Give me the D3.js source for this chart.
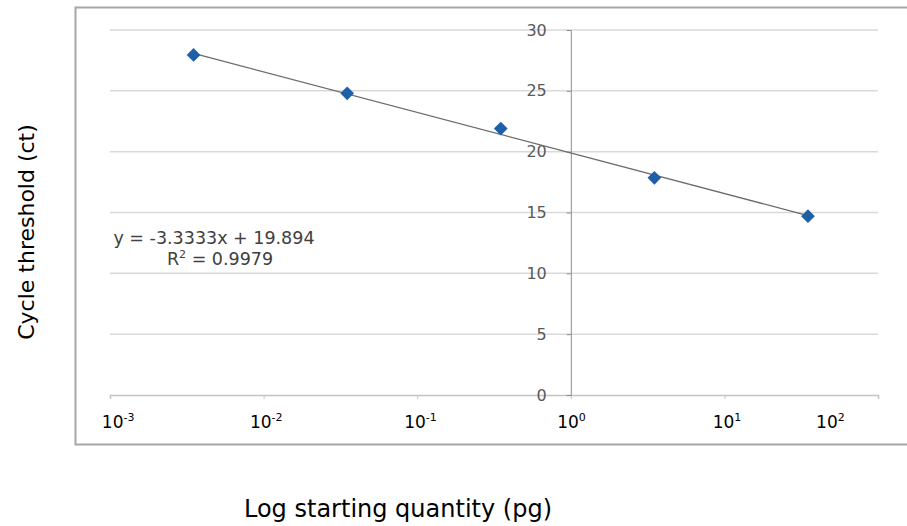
<!DOCTYPE html>
<html>
<head>
<meta charset="utf-8">
<script src="https://cdn.jsdelivr.net/npm/d3@7"></script>
<style>
  body { margin: 0; background: #fff; }
</style>
</head>
<body>
<div id="chart"></div>
<script>
// starting quantity (pg) vs cycle threshold
const quantity = [0.0035, 0.035, 0.35, 3.5, 35];
const ct = [27.95, 24.8, 21.9, 17.85, 14.7];

// trendline as printed on the chart
const slope = -3.3333;
const intercept = 19.894;
const r2 = 0.9979;

const yTicks = [0, 5, 10, 15, 20, 25, 30];
const xTicks = [1e-3, 1e-2, 1e-1, 1, 10, 100];
const xExponents = ["-3", "-2", "-1", "0", "1", "2"];
// where the pasted decade labels sit along the axis
const xLabelAt = [0.00113, 0.0104, 0.105, 1.01, 10.4, 49];

const width = 907, height = 526;

const svg = d3.select("#chart").append("svg")
  .attr("width", width)
  .attr("height", height);

// chart frame
svg.append("rect")
  .attr("x", 75.5).attr("y", 7.5)
  .attr("width", 850).attr("height", 437)
  .attr("fill", "#fff")
  .attr("stroke", "#a6a6a6")
  .attr("stroke-width", 2);

const x = d3.scaleLog().domain([1e-3, 1e2]).range([110, 878]);
const y = d3.scaleLinear().domain([0, 30]).range([395, 30]);

// horizontal gridlines
svg.append("g")
  .selectAll("line")
  .data(yTicks.filter(d => d > 0))
  .join("line")
    .attr("x1", x.range()[0]).attr("x2", x.range()[1])
    .attr("y1", d => y(d)).attr("y2", d => y(d))
    .attr("stroke", "#d9d9d9")
    .attr("stroke-width", 1.5);

// x axis line at ct = 0, with small ticks
const xAxis = svg.append("g")
  .attr("transform", `translate(0,${y(0)})`)
  .call(d3.axisBottom(x).tickValues(xTicks).tickSize(4).tickFormat(""));
xAxis.select(".domain").attr("stroke", "#c4c4c4").attr("stroke-width", 1.5);
xAxis.selectAll(".tick line").attr("stroke", "#c4c4c4");

// y axis crossing at 10^0
const yAxis = svg.append("g")
  .attr("transform", `translate(${x(1)},0)`)
  .call(d3.axisLeft(y).tickValues(yTicks).tickSize(4).tickPadding(20));
yAxis.select(".domain").attr("stroke", "#8c8c8c").attr("stroke-width", 1);
yAxis.selectAll(".tick line").attr("stroke", "#8c8c8c");
yAxis.selectAll(".tick text")
  .attr("fill", "#595959")
  .style("font", "16px 'DejaVu Sans', sans-serif");

// decade labels
const xl = svg.append("g")
  .selectAll("text")
  .data(xTicks)
  .join("text")
    .attr("x", (d, i) => x(xLabelAt[i]))
    .attr("y", 428)
    .attr("text-anchor", "middle")
    .attr("fill", "#000")
    .style("font", "17px 'DejaVu Sans', sans-serif");
xl.append("tspan").text("10");
xl.append("tspan")
  .attr("dy", -7)
  .style("font-size", "11px")
  .text((d, i) => xExponents[i]);

// trendline over the range of the data
const xExt = d3.extent(quantity);
svg.append("line")
  .attr("x1", x(xExt[0])).attr("y1", y(slope * Math.log10(xExt[0]) + intercept))
  .attr("x2", x(xExt[1])).attr("y2", y(slope * Math.log10(xExt[1]) + intercept))
  .attr("stroke", "#6b6b6b")
  .attr("stroke-width", 1.3);

// points
svg.append("g")
  .selectAll("path")
  .data(quantity)
  .join("path")
    .attr("transform", (d, i) => `translate(${x(d)},${y(ct[i])})`)
    .attr("d", d3.symbol(d3.symbolDiamond2, 120))
    .attr("fill", "#1f5fa8");

// equation label
const eq = svg.append("text")
  .attr("fill", "#404040")
  .attr("text-anchor", "middle")
  .style("font", "17.5px 'DejaVu Sans', sans-serif");
eq.append("tspan").attr("x", 214).attr("y", 244)
  .text(`y = ${slope}x + ${intercept}`);
const r2Line = eq.append("tspan").attr("x", 220).attr("y", 265);
r2Line.append("tspan").text("R");
r2Line.append("tspan").attr("dy", -7).style("font-size", "11px").text("2");
r2Line.append("tspan").attr("dy", 7).text(` = ${r2}`);

// axis titles
svg.append("text")
  .attr("transform", "translate(26,232) rotate(-90)")
  .attr("text-anchor", "middle")
  .attr("dominant-baseline", "central")
  .attr("fill", "#000")
  .style("font", "22px 'DejaVu Sans', sans-serif")
  .text("Cycle threshold (ct)");

svg.append("text")
  .attr("x", 398).attr("y", 517)
  .attr("text-anchor", "middle")
  .attr("fill", "#000")
  .style("font", "24px 'DejaVu Sans', sans-serif")
  .text("Log starting quantity (pg)");
</script>
</body>
</html>
